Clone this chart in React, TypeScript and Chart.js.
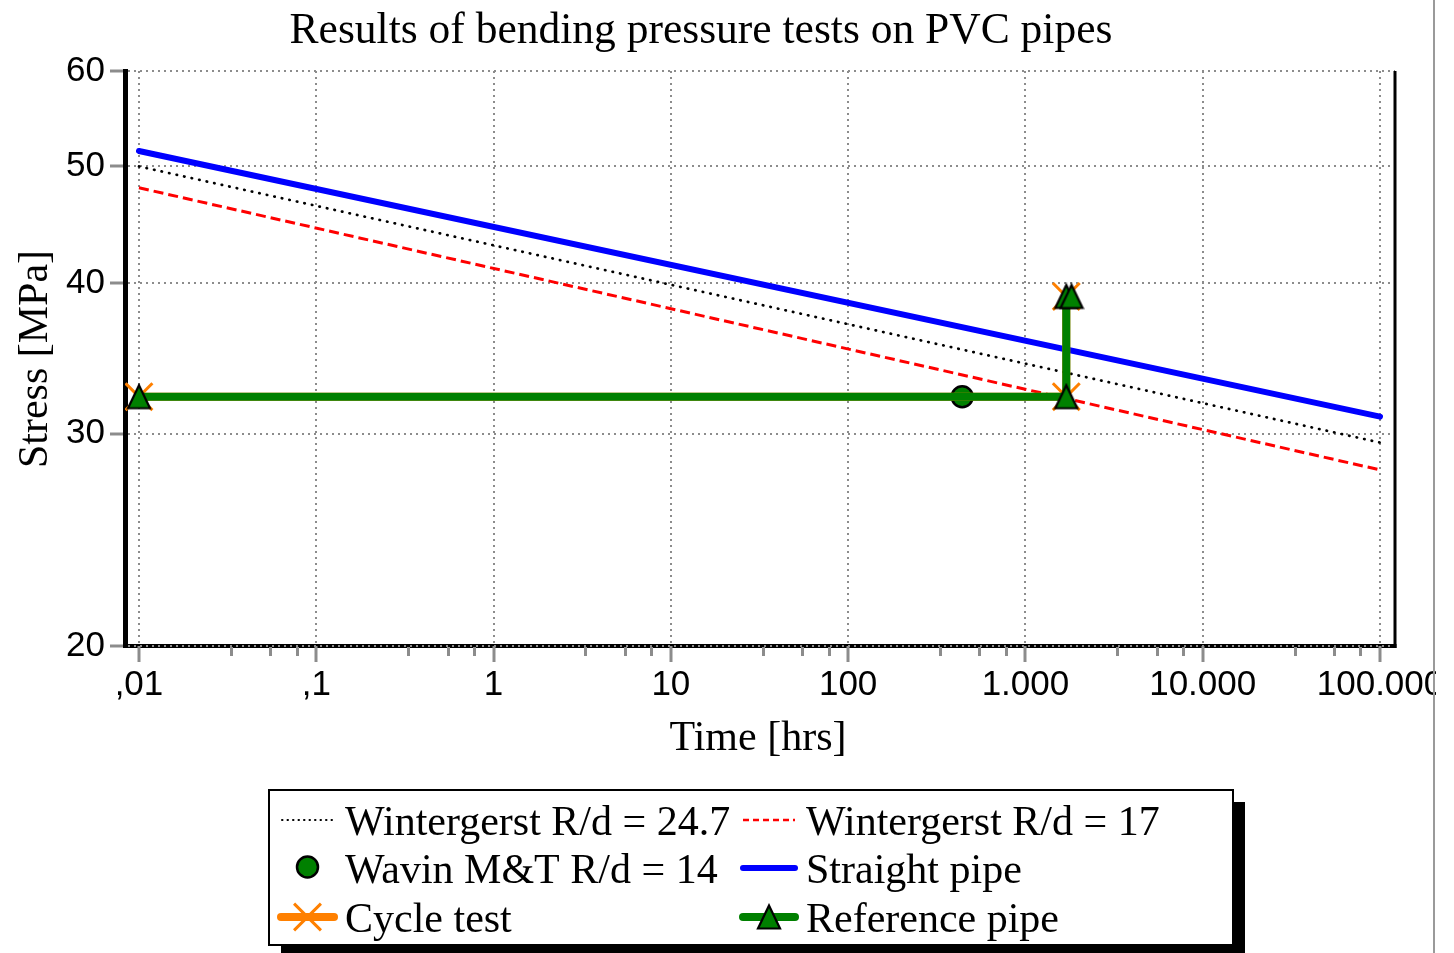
import React, { useEffect, useRef } from 'react';
import { Chart, registerables } from 'chart.js';

Chart.register(...registerables);

// ---------- texts ----------
const TITLE = 'Results of bending pressure tests on PVC pipes';
const X_TITLE = 'Time [hrs]';
const Y_TITLE = 'Stress [MPa]';

// ---------- axes ----------
const xTickValues = [0.01, 0.1, 1, 10, 100, 1000, 10000, 100000];
const xTickLabels = [',01', ',1', '1', '10', '100', '1.000', '10.000', '100.000'];
const xMinorFactors = [3.3, 5.5, 7.75];
const xMin = 0.00834;
const xMax = 121500;
const yTickValues = [20, 30, 40, 50, 60];
const yTickLabels = ['20', '30', '40', '50', '60'];
const yMin = 20;
const yMax = 60;

// ---------- series ----------
const seriesLabels = [
  'Wintergerst R/d = 24.7',
  'Wintergerst R/d = 17',
  'Wavin M&T R/d = 14',
  'Straight pipe',
  'Cycle test',
  'Reference pipe',
];
const lineTime = [0.01, 100000];
const wintergerst247 = [50.0, 29.5];
const wintergerst17 = [48.0, 28.0];
const straightPipe = [51.5, 31.0];
const wavinTime = [440];
const wavinStress = [32.2];
const cycleTime = [0.01, 1700, 1700];
const cycleStress = [32.2, 32.2, 39.0];
const referenceTime = [0.01, 1700, 1700, 1820];
const referenceStress = [32.2, 32.2, 39.0, 39.0];

const GREEN = '#008000';
const ORANGE = '#ff8000';
const GRID = '#8c8c8c';
const SERIF = '"Liberation Serif", "Times New Roman", serif';
const SANS = '"Liberation Sans", Arial, sans-serif';

const pts = (xs: number[], ys: number[]) => xs.map((x, i) => ({ x, y: ys[i] }));

function makeTriangle(): HTMLCanvasElement {
  const c = document.createElement('canvas');
  c.width = 26;
  c.height = 28;
  const g = c.getContext('2d')!;
  g.beginPath();
  g.moveTo(13, 2.5);
  g.lineTo(24, 25.5);
  g.lineTo(2, 25.5);
  g.closePath();
  g.fillStyle = GREEN;
  g.fill();
  g.lineWidth = 2.2;
  g.strokeStyle = '#000';
  g.lineJoin = 'miter';
  g.stroke();
  return c;
}

export default function App() {
  const ref = useRef<HTMLCanvasElement>(null);

  useEffect(() => {
    const canvas = ref.current;
    if (!canvas) return;
    const tri = makeTriangle();

    const decor = {
      id: 'decor',
      beforeDraw(chart: any) {
        const ctx: CanvasRenderingContext2D = chart.ctx;
        const { left, right, bottom } = chart.chartArea;
        ctx.save();
        ctx.fillStyle = '#fff';
        ctx.fillRect(0, 0, chart.width, chart.height);
        // bottom axis line (under the dotted grid line)
        ctx.strokeStyle = '#000';
        ctx.lineWidth = 4;
        ctx.beginPath();
        ctx.moveTo(left - 2, bottom);
        ctx.lineTo(right + 1.5, bottom);
        ctx.stroke();
        ctx.restore();
      },
      afterDraw(chart: any) {
        const ctx: CanvasRenderingContext2D = chart.ctx;
        const { right, top, bottom } = chart.chartArea;
        const xs = chart.scales.x;
        ctx.save();

        // right frame of plot
        ctx.strokeStyle = '#000';
        ctx.lineWidth = 3;
        ctx.beginPath();
        ctx.moveTo(right, top);
        ctx.lineTo(right, bottom + 2);
        ctx.stroke();

        // minor x ticks
        ctx.strokeStyle = GRID;
        ctx.lineWidth = 3;
        xTickValues.forEach((d) => {
          xMinorFactors.forEach((f) => {
            const v = d * f;
            if (v > xMin && v < xMax) {
              const px = Math.round(xs.getPixelForValue(v)) + 0.5;
              ctx.beginPath();
              ctx.moveTo(px, bottom + 1);
              ctx.lineTo(px, bottom + 10);
              ctx.stroke();
            }
          });
        });

        // titles
        ctx.fillStyle = '#000';
        ctx.textBaseline = 'alphabetic';
        ctx.textAlign = 'center';
        ctx.font = `43.5px ${SERIF}`;
        ctx.fillText(TITLE, 701, 43);
        ctx.font = `42px ${SERIF}`;
        ctx.fillText(X_TITLE, 758, 750);
        ctx.save();
        ctx.translate(47, 359);
        ctx.rotate(-Math.PI / 2);
        ctx.fillText(Y_TITLE, 0, 0);
        ctx.restore();

        // legend box with shadow
        const bx = 269, by = 790, bw = 964, bh = 155;
        ctx.fillStyle = '#000';
        ctx.fillRect(bx + 12, by + 12, bw, bh);
        ctx.fillStyle = '#fff';
        ctx.fillRect(bx, by, bw, bh);
        ctx.strokeStyle = '#000';
        ctx.lineWidth = 2;
        ctx.strokeRect(bx, by, bw, bh);

        const ds = chart.data.datasets;
        const cells = [
          { i: 0, x1: 282, x2: 333, tx: 345, ty: 835 },
          { i: 1, x1: 743, x2: 795, tx: 806, ty: 835 },
          { i: 2, x1: 282, x2: 333, tx: 345, ty: 883 },
          { i: 3, x1: 743, x2: 795, tx: 806, ty: 883 },
          { i: 4, x1: 281, x2: 334, tx: 345, ty: 932 },
          { i: 5, x1: 743, x2: 795, tx: 806, ty: 932 },
        ];
        cells.forEach((c) => {
          const d = ds[c.i];
          const sy = c.ty - 15;
          const cx = (c.x1 + c.x2) / 2;
          ctx.save();
          if (d.showLine !== false) {
            ctx.strokeStyle = d.borderColor;
            ctx.lineWidth = d.legendWidth;
            ctx.lineCap = d.legendCap;
            ctx.setLineDash(d.legendDash);
            ctx.beginPath();
            ctx.moveTo(c.x1, sy);
            ctx.lineTo(c.x2, sy);
            ctx.stroke();
            ctx.setLineDash([]);
          }
          if (d.pointStyle === 'circle' && d.pointRadius > 0) {
            ctx.beginPath();
            ctx.arc(cx, sy - 1, d.pointRadius, 0, Math.PI * 2);
            ctx.fillStyle = d.pointBackgroundColor;
            ctx.fill();
            ctx.lineWidth = d.pointBorderWidth;
            ctx.strokeStyle = d.pointBorderColor;
            ctx.stroke();
          } else if (d.pointStyle === 'crossRot') {
            const r = d.pointRadius * Math.SQRT1_2;
            ctx.strokeStyle = d.pointBorderColor;
            ctx.lineWidth = d.pointBorderWidth;
            ctx.lineCap = 'butt';
            ctx.beginPath();
            ctx.moveTo(cx - r, sy - r);
            ctx.lineTo(cx + r, sy + r);
            ctx.moveTo(cx - r, sy + r);
            ctx.lineTo(cx + r, sy - r);
            ctx.stroke();
          } else if (d.pointStyle instanceof HTMLCanvasElement) {
            ctx.drawImage(d.pointStyle, cx - d.pointStyle.width / 2, sy - d.pointStyle.height / 2);
          }
          ctx.restore();
          ctx.fillStyle = '#000';
          ctx.textAlign = 'left';
          ctx.font = `42px ${SERIF}`;
          ctx.fillText(d.label, c.tx, c.ty);
        });

        // page frame at right
        ctx.fillStyle = '#fff';
        ctx.fillRect(1436, 0, chart.width - 1436, chart.height);
        ctx.fillStyle = '#9a9a9a';
        ctx.fillRect(1433, 0, 2, chart.height);
        ctx.restore();
      },
    };

    const chart = new Chart(canvas, {
      type: 'line',
      data: {
        datasets: [
          {
            label: seriesLabels[0],
            data: pts(lineTime, wintergerst247),
            borderColor: '#000',
            borderWidth: 2.7,
            borderDash: [0.5, 7.2],
            borderCapStyle: 'round',
            pointRadius: 0,
            order: 6,
            legendWidth: 2,
            legendDash: [0.5, 5],
            legendCap: 'round',
          } as any,
          {
            label: seriesLabels[1],
            data: pts(lineTime, wintergerst17),
            borderColor: '#ff0000',
            borderWidth: 3,
            borderDash: [10, 5],
            pointRadius: 0,
            order: 7,
            legendWidth: 2.5,
            legendDash: [6, 4],
            legendCap: 'butt',
          } as any,
          {
            label: seriesLabels[2],
            data: pts(wavinTime, wavinStress),
            showLine: false,
            pointStyle: 'circle',
            pointRadius: 10.5,
            pointBackgroundColor: GREEN,
            pointBorderColor: '#000',
            pointBorderWidth: 2.5,
            borderColor: '#000',
            order: 4,
          } as any,
          {
            label: seriesLabels[3],
            data: pts(lineTime, straightPipe),
            borderColor: '#0000ff',
            borderWidth: 6,
            borderCapStyle: 'round',
            pointRadius: 0,
            order: 5,
            legendWidth: 6,
            legendDash: [],
            legendCap: 'round',
          } as any,
          {
            label: seriesLabels[4],
            data: pts(cycleTime, cycleStress),
            borderColor: ORANGE,
            borderWidth: 8,
            pointStyle: 'crossRot',
            pointRadius: 19,
            pointBorderColor: ORANGE,
            pointBorderWidth: 3,
            order: 3,
            legendWidth: 8,
            legendDash: [],
            legendCap: 'round',
          } as any,
          {
            label: seriesLabels[5],
            data: pts(referenceTime, referenceStress),
            borderColor: GREEN,
            borderWidth: 8,
            borderJoinStyle: 'miter',
            pointStyle: tri,
            pointRadius: 13,
            order: 2,
            legendWidth: 8,
            legendDash: [],
            legendCap: 'round',
          } as any,
        ],
      },
      options: {
        animation: false,
        responsive: false,
        maintainAspectRatio: false,
        devicePixelRatio: 1,
        events: [],
        layout: { padding: { top: 71, right: 59, bottom: 0, left: 0 } },
        plugins: {
          legend: { display: false },
          title: { display: false },
          tooltip: { enabled: false },
        },
        scales: {
          x: {
            type: 'logarithmic',
            min: xMin,
            max: xMax,
            afterBuildTicks: (s: any) => {
              s.ticks = xTickValues.map((v) => ({ value: v }));
            },
            afterFit: (s: any) => {
              s.height = 307;
              s.paddingLeft = 0;
              s.paddingRight = 0;
            },
            ticks: {
              autoSkip: false,
              maxRotation: 0,
              minRotation: 0,
              padding: 2,
              color: '#000',
              font: { family: SANS, size: 35 },
              callback: (_v: any, i: number) => xTickLabels[i],
            },
            grid: {
              color: GRID,
              lineWidth: 2,
              tickColor: GRID,
              tickWidth: 3,
              tickLength: 16,
            },
            border: { display: false, dash: [2, 4] },
          },
          y: {
            type: 'logarithmic',
            min: yMin,
            max: yMax,
            afterBuildTicks: (s: any) => {
              s.ticks = yTickValues.map((v) => ({ value: v }));
            },
            afterFit: (s: any) => {
              s.width = 125;
            },
            ticks: {
              autoSkip: false,
              padding: 5,
              color: '#000',
              font: { family: SANS, size: 35 },
              callback: (_v: any, i: number) => yTickLabels[i],
            },
            grid: {
              color: GRID,
              lineWidth: 2,
              tickColor: GRID,
              tickWidth: 3,
              tickLength: 15,
            },
            border: { display: true, color: '#000', width: 5, dash: [2, 4] },
          },
        },
      } as any,
      plugins: [decor],
    });

    return () => chart.destroy();
  }, []);

  return (
    <div style={{ position: 'fixed', left: 0, top: 0, width: 1454, height: 953, background: '#fff' }}>
      <canvas ref={ref} width={1454} height={953} style={{ display: 'block', width: 1454, height: 953 }} />
    </div>
  );
}
